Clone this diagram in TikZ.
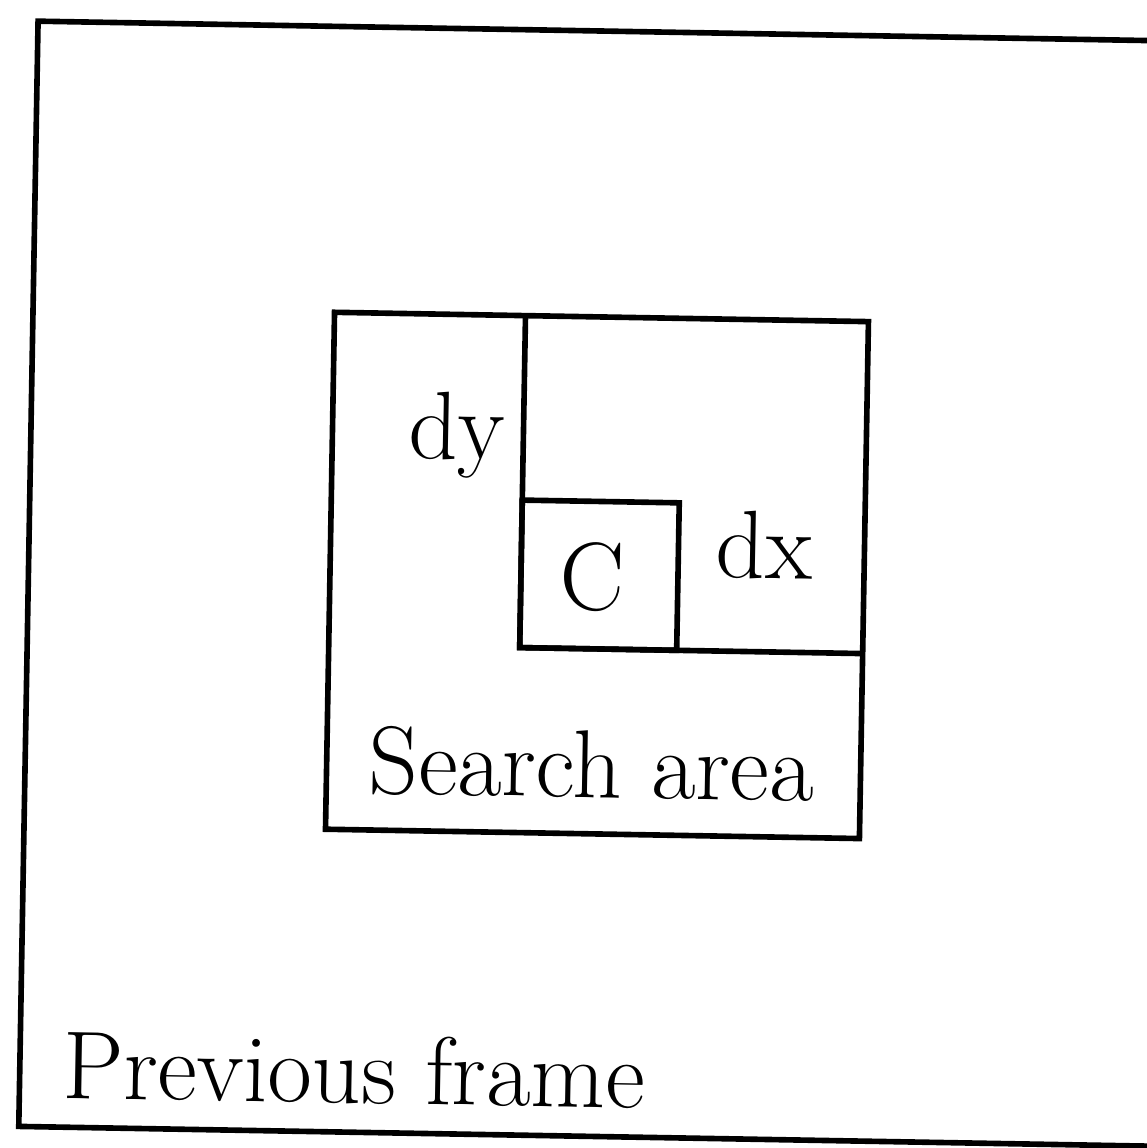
\documentclass[tikz,border=0pt]{standalone}
\usepackage{tikz}
\usetikzlibrary{positioning}
\tikzset{
  frm/.style={line width=1.6pt,line join=miter},
  lbl/.style={font=\fontsize{27.5}{33}\selectfont,inner sep=0pt},
}
\begin{document}
\begin{tikzpicture}
  \useasboundingbox (0,0) rectangle (11.47,-11.48);
  \clip (0,0) rectangle (11.47,-11.48);
  \begin{scope}[rotate around={-1:(5.735,-5.74)},transform shape]
  % previous frame (right side runs off the page)
  \draw[frm] (0.285,-0.306) rectangle (11.9,-11.36);
  % search area and the block split
  \draw[frm] (3.30,-3.165) rectangle (8.64,-8.335);
  \draw[frm] (5.21,-3.165) -- (5.21,-6.485) -- (8.64,-6.485);
  \draw[frm] (5.21,-5.01) rectangle (6.78,-6.485);
  % labels
  \node[lbl,anchor=base east] (dylbl) at (5.03,-4.61) {dy};
  \node[lbl,anchor=base west] (dxlbl) at (7.15,-5.755) {dx};
  \node[lbl,anchor=base] (clbl) at (5.92,-6.10) {C};
  \node[lbl,anchor=base] (sealbl) at (5.95,-7.97) {Search area};
  \node[lbl,anchor=base west] (prvlbl) at (0.71,-11.07) {Previous frame};
  \end{scope}
\end{tikzpicture}
\end{document}
